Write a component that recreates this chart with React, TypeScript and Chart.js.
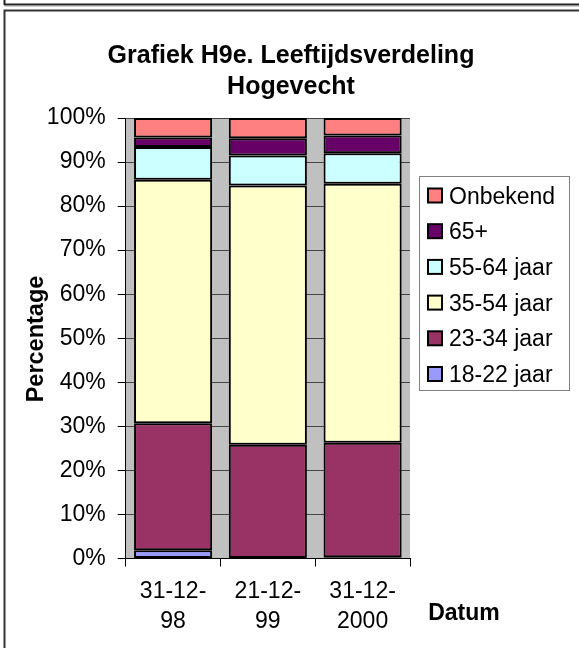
import React, { useEffect, useRef } from "react";
import { Chart, registerables } from "chart.js";

Chart.register(...registerables);

const categories: string[][] = [
  ["31-12-", "98"],
  ["21-12-", "99"],
  ["31-12-", "2000"],
];
const seriesNames = ["18-22 jaar", "23-34 jaar", "35-54 jaar", "55-64 jaar", "65+", "Onbekend"];
const s1822 = [1.9, 0, 0.3];
const s2334 = [28.8, 25.8, 26.0];
const s3554 = [55.3, 58.9, 58.8];
const s5564 = [7.4, 6.8, 6.9];
const s65 = [2.2, 3.9, 4.0];
const sOnbekend = [4.4, 4.6, 4.0];
const seriesColors = ["#9999FF", "#993366", "#FFFFCC", "#CCFFFF", "#660066", "#FF8080"];
const titleLines = ["Grafiek H9e. Leeftijdsverdeling", "Hogevecht"];
const yTitle = "Percentage";
const xTitle = "Datum";

const FONT = "'Liberation Sans', Arial, sans-serif";

const framePlugin = {
  id: "frame",
  beforeDraw(chart: any) {
    const { ctx, chartArea } = chart;
    ctx.save();
    ctx.fillStyle = "#ffffff";
    ctx.fillRect(0, 0, chart.width, chart.height);
    ctx.fillStyle = "#C0C0C0";
    ctx.fillRect(chartArea.left, chartArea.top, chartArea.right - chartArea.left, chartArea.bottom - chartArea.top);
    ctx.restore();
  },
  afterDraw(chart: any) {
    const { ctx } = chart;
    ctx.save();
    // frame of previous chart
    ctx.strokeStyle = "#222";
    ctx.lineWidth = 2;
    ctx.beginPath();
    ctx.moveTo(4.5, 0);
    ctx.lineTo(4.5, 5);
    ctx.moveTo(4, 4.5);
    ctx.lineTo(579, 4.5);
    ctx.stroke();
    ctx.strokeStyle = "#d0d0d0";
    ctx.lineWidth = 1;
    ctx.beginPath();
    ctx.moveTo(5, 6.5);
    ctx.lineTo(579, 6.5);
    ctx.stroke();
    // this chart's frame
    ctx.strokeStyle = "#333";
    ctx.lineWidth = 2;
    ctx.beginPath();
    ctx.moveTo(4.5, 648);
    ctx.lineTo(4.5, 10.5);
    ctx.lineTo(579, 10.5);
    ctx.stroke();

    // title
    ctx.fillStyle = "#000";
    ctx.textAlign = "center";
    ctx.textBaseline = "alphabetic";
    ctx.font = `bold 25px ${FONT}`;
    ctx.fillText(titleLines[0], 291, 63);
    ctx.fillText(titleLines[1], 291, 94);

    // y title
    ctx.save();
    ctx.translate(43, 339);
    ctx.rotate(-Math.PI / 2);
    ctx.font = `bold 23.5px ${FONT}`;
    ctx.textAlign = "center";
    ctx.fillText(yTitle, 0, 0);
    ctx.restore();

    // x title
    ctx.font = `bold 23px ${FONT}`;
    ctx.textAlign = "center";
    ctx.fillText(xTitle, 464, 620);

    // legend
    ctx.fillStyle = "#fff";
    ctx.fillRect(419.5, 176.5, 150, 214);
    ctx.strokeStyle = "#808080";
    ctx.lineWidth = 1;
    ctx.strokeRect(419.5, 176.5, 150, 214);
    const ds = chart.data.datasets;
    ctx.font = `23px ${FONT}`;
    ctx.textAlign = "left";
    for (let i = 0; i < ds.length; i++) {
      const d = ds[ds.length - 1 - i];
      const base = 203.5 + i * 35.7;
      ctx.fillStyle = d.backgroundColor;
      ctx.fillRect(428, base - 15, 14, 14);
      ctx.strokeStyle = "#000";
      ctx.lineWidth = 2;
      ctx.strokeRect(428, base - 15, 14, 14);
      ctx.fillStyle = "#000";
      ctx.fillText(d.label, 449, base);
    }
    ctx.restore();
  },
};

export default function App() {
  const ref = useRef<HTMLCanvasElement | null>(null);
  useEffect(() => {
    if (!ref.current) return;
    const values = [s1822, s2334, s3554, s5564, s65, sOnbekend];
    const chart = new Chart(ref.current, {
      type: "bar",
      data: {
        labels: categories,
        datasets: values.map((v, i) => ({
          label: seriesNames[i],
          data: v,
          backgroundColor: seriesColors[i],
          borderColor: "#000",
          borderWidth: 2,
          borderSkipped: false,
          barPercentage: 0.824,
          categoryPercentage: 1,
        })),
      },
      options: {
        responsive: false,
        animation: false,
        devicePixelRatio: 1,
        layout: { padding: { left: 0, top: 118, right: 169, bottom: 0 } },
        plugins: {
          legend: { display: false },
          title: { display: false },
          tooltip: { enabled: false },
        },
        scales: {
          x: {
            stacked: true,
            grid: {
              display: true,
              drawOnChartArea: false,
              drawTicks: true,
              tickLength: 8,
              tickColor: "#000",
              offset: true,
            },
            border: { color: "#000", width: 1 },
            ticks: {
              color: "#000",
              font: { family: FONT, size: 23, lineHeight: 1.27 },
              padding: 11,
              maxRotation: 0,
              autoSkip: false,
            },
            afterFit: (s: any) => {
              s.height = 89.5;
            },
          },
          y: {
            stacked: true,
            min: 0,
            max: 100,
            grid: {
              color: "#444",
              lineWidth: 1,
              tickLength: 8,
              tickColor: "#000",
            },
            border: { color: "#000", width: 1 },
            ticks: {
              stepSize: 10,
              color: "#000",
              font: { family: FONT, size: 23 },
              padding: 12,
              callback: (v: any) => `${v}%`,
            },
            afterFit: (s: any) => {
              s.width = 125.7;
            },
          },
        },
      },
      plugins: [framePlugin],
    });
    return () => chart.destroy();
  }, []);
  return (
    <div style={{ position: "absolute", left: 0, top: 0, width: 579, height: 648, background: "#fff" }}>
      <canvas ref={ref} width={579} height={648} style={{ display: "block" }} />
    </div>
  );
}
